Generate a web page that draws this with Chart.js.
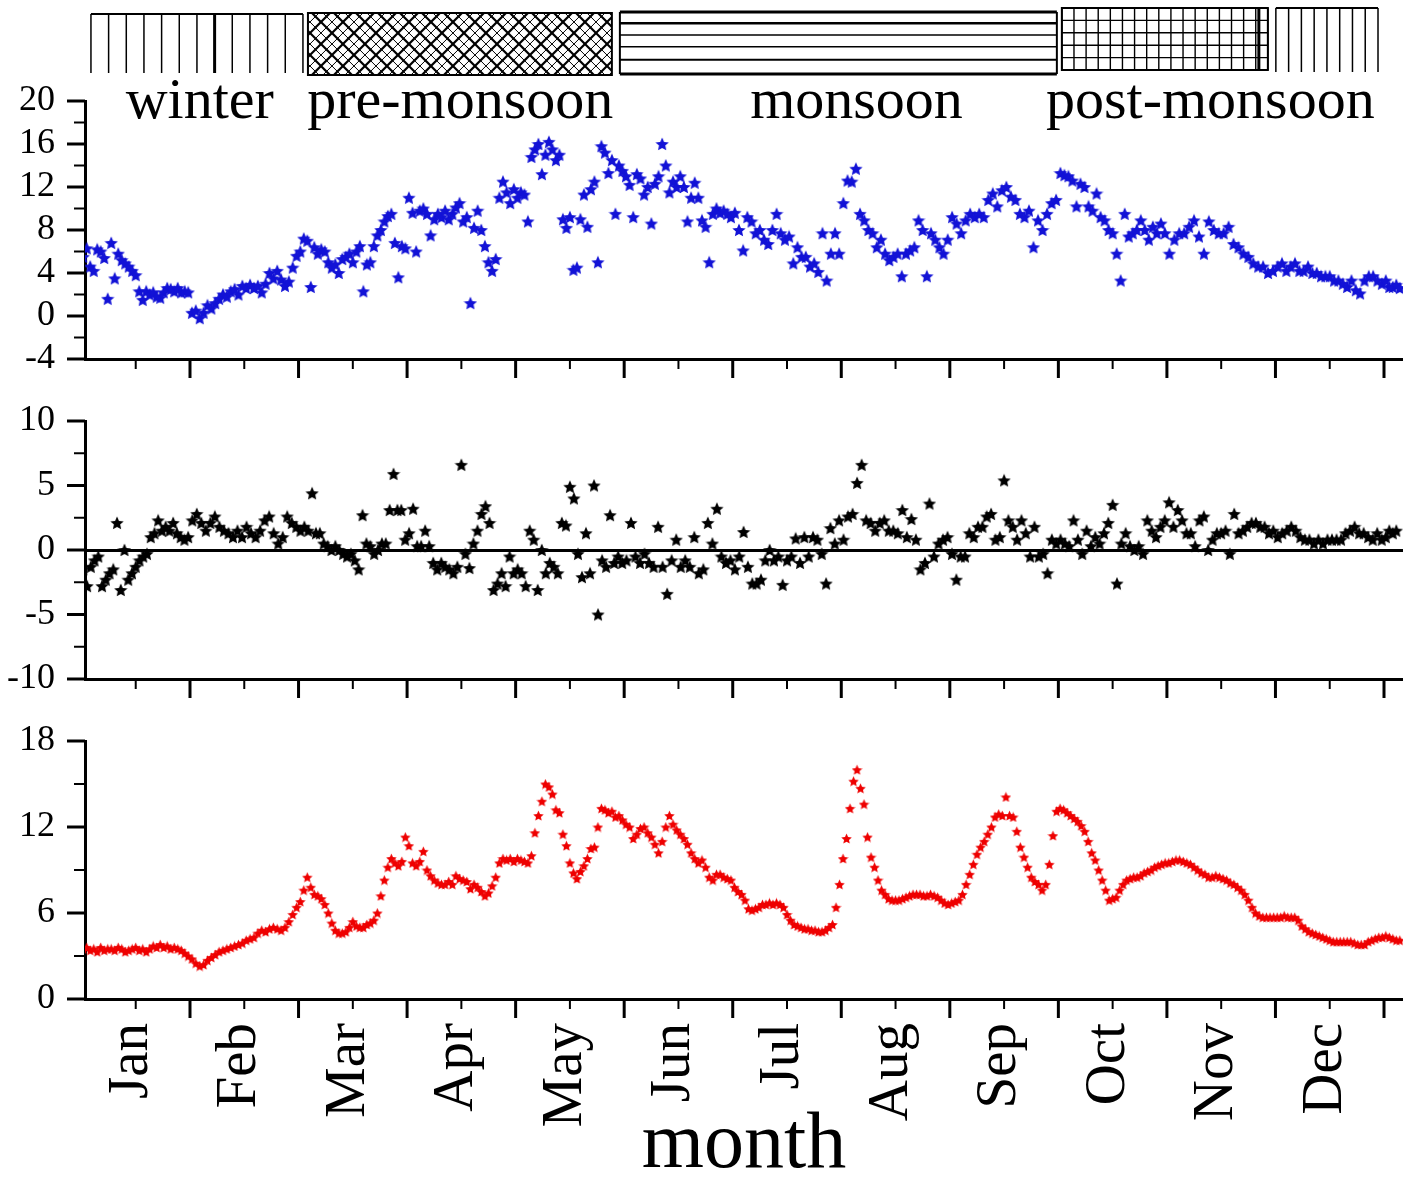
<!DOCTYPE html>
<html>
<head>
<meta charset="utf-8">
<script src="https://cdn.jsdelivr.net/npm/chart.js@4.4.0/dist/chart.umd.min.js"></script>
<style>
  html, body { margin: 0; padding: 0; background: #ffffff; overflow: hidden; width: 1403px; height: 1181px; }
  .panel { position: absolute; left: 0; width: 1403px; }
  #p1 { top: 0; height: 385px; }
  #p2 { top: 385px; height: 320px; }
  #p3 { top: 705px; height: 481px; }
</style>
</head>
<body>
<div class="panel" id="p1"><canvas id="c1"></canvas></div>
<div class="panel" id="p2"><canvas id="c2"></canvas></div>
<div class="panel" id="p3"><canvas id="c3"></canvas></div>
<script>
// ---------------- DATA ----------------
const monthLabels = ['Jan', 'Feb', 'Mar', 'Apr', 'May', 'Jun', 'Jul', 'Aug', 'Sep', 'Oct', 'Nov', 'Dec'];
const overflowDays = 31; // day spacing for the few points that run past the end of December

// top panel (blue), one row per month, last row = days after 31 Dec
const topSeries = [
  [5.5, 6.3, 4.6, 4.2, 6.2, 6.0, 5.4, 1.6, 6.8, 3.5, 5.8, 5.2, 4.9, 4.6, 4.2, 3.8, 2.3, 1.5, 2.3, 2.0, 2.2, 1.8, 1.7, 2.2, 2.6, 2.5, 2.3, 2.6, 2.2, 2.3, 2.2],
  [0.3, 0.5, -0.2, 0.3, 1.0, 0.7, 1.2, 1.6, 2.0, 1.8, 2.3, 2.5, 2.0, 2.8, 2.6, 2.9, 2.6, 2.8, 2.2, 3.0, 4.0, 3.5, 4.2, 3.4, 2.8, 3.2, 4.5, 5.6],
  [6.0, 7.2, 7.0, 2.7, 6.4, 5.8, 6.2, 6.0, 5.0, 4.5, 4.8, 4.0, 5.3, 5.5, 5.8, 5.0, 6.0, 6.5, 2.3, 4.8, 5.0, 6.5, 7.5, 8.0, 8.8, 9.3, 9.5, 6.8, 3.6, 6.5, 6.3],
  [11.0, 9.6, 6.0, 9.8, 10.0, 9.5, 7.5, 9.0, 9.5, 9.2, 9.8, 9.0, 9.5, 10.1, 10.5, 8.8, 9.2, 1.2, 8.2, 9.8, 8.0, 6.5, 5.0, 4.2, 5.3, 11.0, 12.5, 11.5, 10.5, 11.8],
  [11.0, 11.5, 11.3, 8.8, 14.8, 15.5, 16.0, 13.2, 15.0, 16.2, 15.5, 14.5, 15.0, 9.0, 8.2, 9.2, 4.3, 4.5, 9.0, 11.3, 8.3, 11.8, 12.5, 5.0, 15.8, 15.2, 13.3, 14.5, 9.5, 14.0, 13.5],
  [13.0, 12.2, 9.2, 13.2, 12.8, 11.3, 12.0, 8.6, 12.3, 13.0, 16.0, 14.0, 11.5, 12.5, 12.0, 13.0, 12.0, 8.8, 11.0, 12.4, 11.0, 8.9, 8.3, 5.0, 9.5, 10.0, 9.6, 9.8, 9.5, 9.2],
  [9.6, 8.0, 6.1, 9.2, 8.8, 7.7, 8.0, 7.1, 6.7, 8.0, 9.5, 7.7, 7.1, 7.4, 4.9, 6.4, 5.5, 5.5, 4.6, 4.9, 4.1, 7.7, 3.3, 5.8, 7.7, 5.8],
  [10.5, 12.6, 12.5, 13.7, 9.5, 8.9, 8.0, 7.7, 6.4, 7.1, 5.8, 5.2, 5.5, 5.8, 3.7, 5.8, 6.1, 6.4, 8.9, 8.0, 3.7, 7.7, 7.1, 6.4, 5.8, 7.1],
  [9.2, 8.6, 7.7, 8.9, 9.5, 9.2, 9.5, 9.2, 10.8, 11.4, 10.2, 11.7, 12.0, 11.1, 10.8, 9.5, 9.2, 9.8, 6.4, 8.9, 8.0, 9.5, 10.5, 10.8],
  [13.3, 13.1, 13.0, 12.6, 10.2, 12.3, 12.0, 10.2, 9.8, 11.4, 9.2, 8.9, 8.0, 7.7, 5.8, 3.3, 9.5, 7.4, 7.7, 8.0, 8.9, 8.0, 7.1, 8.3, 7.7, 8.6, 7.7],
  [5.8, 7.1, 7.7, 7.7, 8.3, 8.9, 7.4, 5.8, 8.8, 8.0, 7.7, 7.7, 8.3, 6.7, 6.4, 5.8, 5.5, 4.9, 4.6, 4.6, 4.0, 4.2],
  [4.6, 4.9, 4.2, 4.6, 4.9, 4.2, 4.2, 4.6, 4.0, 4.0, 3.7, 3.7, 3.7, 3.3, 3.3, 3.0, 2.7, 3.3, 2.4, 2.1, 3.3, 3.7, 3.7, 3.3, 3.0],
  [3.3, 2.7, 2.7, 2.9, 2.6]
];

// middle panel (black)
const midSeries = [
  [-1.5, -2.8, -1.3, -0.8, -0.5, -2.8, -2.3, -1.8, -1.5, 2.1, -3.1, 0.0, -2.3, -1.8, -1.3, -0.8, -0.5, -0.3, 1.0, 1.3, 2.3, 1.5, 1.8, 1.5, 2.1, 1.3, 1.0, 0.8, 1.0],
  [2.3, 2.8, 2.1, 1.5, 2.1, 2.6, 1.8, 1.5, 1.3, 1.0, 1.5, 1.0, 1.8, 1.3, 1.0, 1.5, 2.3, 2.6, 1.3, 0.5, 1.0, 2.6, 2.1, 1.8],
  [1.5, 1.8, 1.5, 4.4, 1.3, 1.3, 0.5, 0.3, 0.0, 0.3, 0.0, -0.3, -0.5, -0.3, -0.8, -1.5, 2.7, 0.5, 0.3, -0.3, 0.0, 0.5, 0.5, 3.1, 5.9, 3.1, 3.1, 0.8],
  [1.3, 3.2, 0.3, 0.3, 1.5, 0.3, -1.0, -1.5, -1.0, -1.3, -1.5, -1.8, -1.3, 6.6, -0.3, -1.4, 0.5, 1.5, 2.8, 3.4, 2.1, -3.1, -2.6, -1.8, -2.8, -0.5, -1.8],
  [-1.5, -1.8, -2.8, 1.5, 0.8, -3.1, 0.0, -1.8, -1.0, -1.3, -1.8, 2.1, 1.9, 4.9, 4.0, -0.3, -2.1, 1.3, -1.8, 5.0, -5.0, -0.8, -1.3, 2.7, -1.0, -0.5, -1.0],
  [-0.8, 2.1, -0.5, -1.0, -0.3, -1.0, -1.3, 1.8, -1.3, -3.4, -0.8, 0.8, -1.3, -0.8, -1.3, 1.0, -1.8, -1.5, 2.1, 0.5, 3.2, -0.5, -1.0, -0.8],
  [-1.5, -0.5, 1.4, -1.3, -2.6, -2.6, -2.3, -0.8, 0.0, -0.8, -0.5, -2.7, -0.8, -0.5, 0.9, -1.0, 1.0, -0.5, 1.0, 0.8, -0.3, -2.6, 1.7, 0.5, 2.3],
  [0.8, 2.6, 2.8, 5.2, 6.6, 2.3, 2.1, 1.5, 2.1, 2.3, 1.5, 1.5, 1.3, 3.1, 1.0, 2.4, 0.8, -1.5, -1.0, 3.6, -0.5, 0.5, 0.8, 1.0],
  [-0.3, -2.3, -0.5, -0.5, 1.3, 1.0, 1.8, 1.8, 2.6, 2.8, 0.8, 1.0, 5.4, 2.3, 1.8, 0.8, 2.3, 1.3, -0.5, 1.8, -0.5, -0.3, -1.8, 0.8, 0.5],
  [0.8, 0.5, 0.3, 2.3, 0.8, -0.3, 1.5, 0.3, 1.0, 0.5, 1.3, 2.1, 3.5, -2.6, 0.5, 1.3, 0.3, 0.0, 0.3, -0.3, 2.3, 1.5, 1.0, 1.8, 2.3],
  [3.7, 1.8, 3.1, 2.3, 1.3, 1.3, 0.3, 2.3, 2.6, 0.0, 0.8, 1.3, 1.3, 1.5, -0.3, 2.8, 1.3, 1.5, 1.8, 2.1, 2.1, 1.8, 1.8, 1.3, 1.5],
  [1.0, 1.3, 1.5, 1.8, 1.5, 1.0, 0.8, 0.8, 0.5, 0.8, 0.5, 0.8, 0.8, 0.8, 0.8, 1.3, 1.5, 1.8, 1.3, 1.3, 1.0, 0.8, 1.3, 0.8],
  [1.0, 1.5, 1.3, 1.5]
];

// bottom panel (red)
const bottomSeries = [
  [3.5, 3.6, 3.4, 3.5, 3.3, 3.6, 3.4, 3.5, 3.5, 3.4, 3.6, 3.5, 3.3, 3.4, 3.5, 3.6, 3.4, 3.5, 3.3, 3.5, 3.7, 3.6, 3.8, 3.6, 3.7, 3.5, 3.6, 3.5, 3.4, 3.2, 3.0],
  [2.8, 2.5, 2.3, 2.4, 2.7, 2.9, 3.1, 3.3, 3.4, 3.5, 3.6, 3.7, 3.8, 3.9, 4.1, 4.2, 4.3, 4.6, 4.8, 4.7, 4.9, 5.0, 4.9, 4.8, 5.0, 5.4, 5.9, 6.4],
  [6.8, 7.6, 8.5, 7.8, 7.3, 7.2, 7.0, 6.6, 6.0, 5.3, 4.8, 4.6, 4.6, 4.7, 5.0, 5.4, 5.1, 5.0, 5.0, 5.2, 5.3, 5.5, 6.0, 7.2, 8.3, 9.2, 9.8, 9.5, 9.3, 9.6, 11.3],
  [10.7, 9.5, 9.3, 9.6, 10.3, 9.0, 8.6, 8.3, 8.1, 8.0, 8.0, 8.2, 8.0, 8.6, 8.4, 8.3, 8.2, 7.7, 8.0, 7.8, 7.5, 7.2, 7.4, 7.9, 8.5, 9.5, 9.8, 9.7, 9.8, 9.6],
  [9.8, 9.7, 9.6, 9.5, 10.0, 11.6, 12.8, 13.8, 15.0, 14.8, 14.3, 13.2, 13.0, 11.5, 10.7, 9.5, 8.8, 8.4, 8.9, 9.3, 9.8, 10.5, 10.6, 12.0, 13.3, 13.2, 13.0, 13.1, 12.7, 12.8, 12.5],
  [12.2, 12.0, 11.2, 11.5, 11.9, 12.0, 11.6, 11.3, 10.8, 10.2, 11.0, 12.0, 12.8, 12.2, 11.8, 11.5, 11.2, 10.8, 10.2, 9.8, 9.5, 9.7, 9.2, 8.5, 8.3, 8.7, 8.7, 8.5, 8.4, 8.3],
  [7.8, 7.5, 7.3, 6.9, 6.3, 6.2, 6.3, 6.4, 6.6, 6.6, 6.7, 6.6, 6.7, 6.6, 6.4, 5.9, 5.5, 5.2, 5.1, 5.0, 4.9, 4.9, 4.8, 4.8, 4.7, 4.7, 4.8, 5.0, 5.2, 6.4, 8.0],
  [9.8, 11.2, 13.3, 15.2, 16.0, 14.7, 13.6, 11.3, 9.9, 9.2, 8.3, 7.6, 7.3, 7.0, 6.9, 6.9, 6.9, 7.0, 7.1, 7.2, 7.3, 7.3, 7.3, 7.2, 7.2, 7.3, 7.2, 7.1, 6.9, 6.7, 6.6],
  [6.7, 6.8, 6.9, 7.3, 8.0, 8.7, 9.4, 10.1, 10.6, 11.0, 11.5, 12.0, 12.7, 12.9, 12.8, 14.1, 12.8, 12.7, 11.7, 10.6, 9.9, 9.2, 8.5, 8.2, 8.0, 7.6, 8.0, 9.4, 11.4, 13.1],
  [13.3, 13.2, 13.0, 12.8, 12.6, 12.4, 12.1, 11.7, 11.0, 10.2, 9.7, 9.0, 8.3, 7.6, 6.9, 7.0, 7.1, 7.6, 8.0, 8.3, 8.4, 8.5, 8.5, 8.6, 8.8, 8.9, 9.0, 9.2, 9.3, 9.4, 9.5],
  [9.5, 9.6, 9.7, 9.7, 9.6, 9.5, 9.4, 9.2, 9.0, 8.8, 8.7, 8.5, 8.5, 8.6, 8.5, 8.4, 8.3, 8.1, 8.0, 7.8, 7.6, 7.3, 6.9, 6.4, 6.0, 5.8, 5.7, 5.7, 5.7, 5.7],
  [5.7, 5.7, 5.8, 5.7, 5.7, 5.7, 5.5, 5.1, 4.9, 4.7, 4.6, 4.5, 4.4, 4.3, 4.2, 4.1, 4.0, 4.0, 4.0, 4.0, 4.0, 4.0, 3.9, 3.8, 3.8, 3.8, 4.0, 4.1, 4.2, 4.3, 4.3],
  [4.4, 4.3, 4.2, 4.1, 4.1]
];

// seasons (month boundaries, 0 = 1 Jan)
const seasonNames = ['winter', 'pre-monsoon', 'monsoon', 'post-monsoon', 'winter'];
const seasonFrom = [0, 2, 5, 9, 11];
const seasonTo = [2, 5, 9, 11, 12];

// ---------------- STYLE ----------------
const FONT = '"Liberation Serif", "Times New Roman", serif';
const X_MIN = 0.0327, X_MAX = 12.175;
const seasonPattern = ['vertical', 'diamond', 'horizontal', 'grid', 'vertical'];
const seasonLabelAt = [1.09, 3.49, 7.14, 10.4, null];
const boxPadL = [9.5, 9.4, -4.3, 3.5, 0.4];
const boxPadR = [4.4, -12.3, -1.5, -7.6, -6];
const boxTop = [14, 13, 12, 8, 8];
const boxBottom = [73, 75, 74, 70, 72];
const vertCount = [12, 0, 0, 0, 8];

Chart.defaults.font.family = FONT;
Chart.defaults.color = '#000';

function makeStar(color, size) {
  const c = document.createElement('canvas');
  c.width = size; c.height = size;
  const g = c.getContext('2d');
  const R = size / 2, r = R * 0.47, cx = size / 2, cy = size / 2 + 0.6;
  g.beginPath();
  for (let i = 0; i < 10; i++) {
    const a = -Math.PI / 2 + i * Math.PI / 5;
    const rad = i % 2 ? r : R;
    g.lineTo(cx + rad * Math.cos(a), cy + rad * Math.sin(a));
  }
  g.closePath();
  g.fillStyle = color;
  g.fill();
  return c;
}

function toPoints(groups) {
  const pts = [];
  groups.forEach((arr, g) => {
    const n = g < 12 ? arr.length : overflowDays;
    arr.forEach((v, j) => pts.push({ x: g + (j + 0.5) / n, y: v }));
  });
  return pts;
}

function seg(ctx, x1, y1, x2, y2, w) {
  ctx.lineWidth = w;
  ctx.beginPath(); ctx.moveTo(x1, y1); ctx.lineTo(x2, y2); ctx.stroke();
}

function zeroPad(a) { a.paddingLeft = 0; a.paddingRight = 0; a.paddingTop = 0; a.paddingBottom = 0; }

const tickMarks = {
  id: 'tickMarks',
  afterDraw(chart) {
    const ctx = chart.ctx, xs = chart.scales.x, ys = chart.scales.y;
    ctx.save();
    ctx.strokeStyle = '#000';
    ctx.lineCap = 'butt';
    const vals = ys.ticks.map(t => t.value);
    vals.forEach(v => { const p = ys.getPixelForValue(v); seg(ctx, ys.right - 18, p, ys.right, p, 3); });
    for (let i = 0; i < vals.length - 1; i++) {
      const p = ys.getPixelForValue((vals[i] + vals[i + 1]) / 2);
      seg(ctx, ys.right - 11, p, ys.right, p, 2);
    }
    for (let m = 1; m <= 12; m++) {
      const p = xs.getPixelForValue(m);
      if (p <= chart.chartArea.right) seg(ctx, p, xs.top, p, xs.top + 19, 3);
    }
    for (let m = 0; m < 12; m++) {
      const p = xs.getPixelForValue(m + 0.5);
      seg(ctx, p, xs.top, p, xs.top + 10, 2);
    }
    ctx.restore();
  }
};

function drawBox(ctx, x0, x1, y0, y1, kind, idx) {
  ctx.save();
  ctx.strokeStyle = '#000';
  const w = x1 - x0, h = y1 - y0;
  if (kind === 'vertical') {
    seg(ctx, x0, y0, x1, y0, 2);
    const n = vertCount[idx];
    for (let i = 0; i <= n; i++) {
      const x = x0 + i * w / n;
      seg(ctx, x, y0, x, y1, (idx === 0 && i === 7) ? 3 : 1.5);
    }
  } else if (kind === 'diamond') {
    ctx.save();
    ctx.beginPath(); ctx.rect(x0, y0, w, h); ctx.clip();
    let k = 0;
    for (let o = -h - 22; o < w + 22; o += 11) {
      const lw = (k % 2 === 0) ? 2.2 : 1;
      seg(ctx, x0 + o, y1, x0 + o + h, y0, lw);
      seg(ctx, x0 + o, y0, x0 + o + h, y1, lw);
      k++;
    }
    ctx.restore();
    ctx.lineWidth = 2;
    ctx.strokeRect(x0, y0, w, h);
  } else if (kind === 'horizontal') {
    const fr = [0, 0.18, 0.37, 0.56, 0.77, 1];
    const lw = [3, 2.5, 1.5, 1.5, 2, 3];
    fr.forEach((f, i) => seg(ctx, x0, y0 + f * h, x1, y0 + f * h, lw[i]));
    seg(ctx, x0, y0, x0, y1, 2);
    seg(ctx, x1, y0, x1, y1, 2);
  } else if (kind === 'grid') {
    const nv = Math.round(w / 12);
    for (let i = 0; i <= nv; i++) { const x = x0 + i * w / nv; seg(ctx, x, y0, x, y1, 1.4); }
    for (let i = 0; i <= 5; i++) { const y = y0 + i * h / 5; seg(ctx, x0, y, x1, y, 1.4); }
    seg(ctx, x1 - 9, y0, x1 - 9, y1, 3);
    ctx.lineWidth = 2;
    ctx.strokeRect(x0, y0, w, h);
  }
  ctx.restore();
}

const seasonBand = {
  id: 'seasonBand',
  afterDraw(chart) {
    const ctx = chart.ctx, xs = chart.scales.x;
    seasonNames.forEach((name, i) => {
      const x0 = xs.getPixelForValue(seasonFrom[i]) + boxPadL[i];
      const x1 = xs.getPixelForValue(seasonTo[i]) + boxPadR[i];
      drawBox(ctx, x0, x1, boxTop[i], boxBottom[i], seasonPattern[i], i);
    });
    ctx.save();
    ctx.fillStyle = '#000';
    ctx.font = '58px ' + FONT;
    ctx.textAlign = 'center';
    ctx.textBaseline = 'alphabetic';
    seasonNames.forEach((name, i) => {
      if (seasonLabelAt[i] === null) return;
      ctx.fillText(name, xs.getPixelForValue(seasonLabelAt[i]), 118);
    });
    ctx.restore();
  }
};

function xAxis(axisHeight, withLabels) {
  const ax = {
    type: 'linear', min: X_MIN, max: X_MAX,
    afterBuildTicks: a => { a.ticks = monthLabels.map((_, i) => ({ value: i + 0.5 })); },
    afterFit: a => { a.height = axisHeight; zeroPad(a); },
    grid: { display: false, drawTicks: false, tickLength: 0 },
    border: { display: true, color: '#000', width: 3 },
    ticks: { display: false }
  };
  if (withLabels) {
    ax.ticks = {
      display: true, autoSkip: false, minRotation: 90, maxRotation: 90,
      padding: 24, labelOffset: -4, color: '#000',
      font: { family: FONT, size: 57 },
      callback: (v, i) => monthLabels[i]
    };
    ax.title = { display: true, text: 'month', color: '#000',
      font: { family: FONT, size: 80, lineHeight: 1 }, padding: { top: 0, bottom: 0 } };
  }
  return ax;
}

function yAxis(min, max, step, zeroLine) {
  return {
    min: min, max: max,
    afterFit: a => { a.width = 85; zeroPad(a); },
    ticks: { stepSize: step, autoSkip: false, padding: 30, color: '#000', font: { family: FONT, size: 36 } },
    grid: zeroLine ? {
      display: true, drawTicks: false, tickLength: 0, drawOnChartArea: true,
      color: c => (c.tick && c.tick.value === 0) ? '#000' : 'rgba(0,0,0,0)',
      lineWidth: c => (c.tick && c.tick.value === 0) ? 3 : 0
    } : { display: false, drawTicks: false, tickLength: 0 },
    border: { display: true, color: '#000', width: 3 }
  };
}

function panel(id, series, star, padTop, axisHeight, yCfg, withLabels, extra) {
  return new Chart(document.getElementById(id), {
    type: 'scatter',
    data: { datasets: [{ data: toPoints(series), pointStyle: star, pointRadius: 5, showLine: false }] },
    options: {
      responsive: true, maintainAspectRatio: false, animation: false, events: [],
      layout: { autoPadding: false, padding: { top: padTop, left: 0, right: 0, bottom: 0 } },
      plugins: { legend: { display: false }, tooltip: { enabled: false } },
      scales: { x: xAxis(axisHeight, withLabels), y: yCfg }
    },
    plugins: [tickMarks].concat(extra || [])
  });
}

panel('c1', topSeries, makeStar('#1212d6', 14), 101, 26, yAxis(-4, 20, 4, false), false, [seasonBand]);
panel('c2', midSeries, makeStar('#000000', 14), 36, 26, yAxis(-10, 10, 5, true), false);
panel('c3', bottomSeries, makeStar('#ee0000', 11), 36, 187, yAxis(0, 18, 6, false), true);
</script>
</body>
</html>
